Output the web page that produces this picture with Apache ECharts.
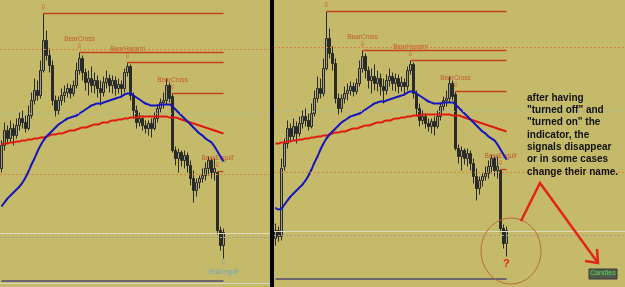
<!DOCTYPE html>
<html><head><meta charset="utf-8">
<script src="https://cdn.jsdelivr.net/npm/echarts@6/dist/echarts.min.js"></script>
<style>html,body{margin:0;padding:0;background:#c4ba6a}#c{width:625px;height:287px}</style>
</head><body><div id="c"></div>
<script>
// candles: [open, close, low, high]
const candles = [
[132,155,128,160],[155,170,150,178],[170,162,157,175],[162,172,158,180],[172,165,155,177],
[165,175,162,182],[175,182,170,188],[182,178,172,190],[178,172,168,185],[172,185,170,195],
[185,200,182,208],[200,210,196,222],[210,205,200,220],[205,230,202,240],[230,260,228,287],
[260,245,240,270],[245,235,228,252],[235,200,195,240],[200,190,184,205],[190,200,186,204],
[200,205,195,212],[205,208,198,215],[208,212,203,217],[212,207,202,216],[207,215,204,220],
[215,230,212,238],[230,242,226,248],[242,228,220,245],[228,218,210,232],[218,222,205,230],
[222,215,208,234],[215,220,207,228],[220,212,203,225],[212,208,195,220],[208,218,204,224],
[218,222,212,230],[222,215,208,226],[215,220,207,225],[220,212,205,224],[212,216,207,222],
[216,212,205,220],[212,228,208,232],[228,234,224,238],[234,205,200,236],[205,190,182,208],
[190,178,172,195],[178,182,174,188],[182,175,170,185],[175,172,167,180],[172,177,165,180],
[177,172,163,182],[172,182,170,188],[182,192,178,196],[192,198,188,202],[198,200,192,208],
[200,215,196,222],[215,202,198,218],[204,150,148,207],[150,142,135,154],[142,148,128,152],
[148,140,134,150],[140,145,132,150],[145,135,128,148],[135,122,115,140],[122,110,98,130],
[110,118,104,122],[118,122,112,125],[122,125,118,132],[125,132,120,138],[132,140,125,144],
[140,128,122,142],[128,132,120,142],[128,70,66,129],[70,55,50,74],[55,68,42,72]
];
// earlier bars visible only on the right-hand chart
const extraCandles = [[60,68,53,75],[68,62,57,72],[62,130,58,140]];

const maFast = [94,98,102,105,108,111,114,118,123,129,
136,142,149,155,160,164,167,170,173,176,
178,180,182,183,184,185,187,189,191,193,
195,196,197,197,198,199,200,201,202,203,
204,206,207,207,205,203,201,199,197,196,
195,195,195,196,196,196,196,
194,191,188,185,182,179,176,173,170,167,165,162,160,158,154,149,144,139];
const maSlow = [156,157,157,158,158,159,159,160,160,161,
161,162,162,163,163,164,165,166,166,167,
167,168,169,170,170,171,172,173,173,174,
175,176,176,177,178,178,179,180,180,181,
181,182,182,183,183,183,184,184,184,184,
184,184,184,184,184,184,
183,183,183,182,181,180,179,178,177,176,175,174,173,172,171,170,169,168,167];
const extraMaFast = [91,89,90];
const extraMaSlow = [155,155,156];

const signals = [
  {name:'', idx:14},
  {name:'BearCross', idx:26},
  {name:'BearHarami', idx:42},
  {name:'BearCross', idx:57},
  {name:'BearEngulf', idx:72}
];
const bullSignal = {name:'BullEngulf', idx:74};
const dottedLevels = [251, 126];
const gridLevel = 187;
const supportLevels = [67, 63];
const baseLevel = 20;

const noteLines = ['after having','"turned off" and','"turned on" the','indicator, the','signals disappear','or in some cases','change their name.'];

const chart = echarts.init(document.getElementById('c'));
const FONT = 'Liberation Sans';
const SIG_LINE = {type:'solid', color:'#c9421f', width:1.3};

function panel(k, data, fast, slow, shift, withBull) {
  const last = data.length - 1;
  const hi = i => candles[i][3];
  const lo = i => candles[i][2];
  const ml = [
    ...dottedLevels.map(v => ({yAxis:v, lineStyle:{type:[2,2], color:'#d8853a', width:1}})),
    {yAxis:gridLevel, lineStyle:{type:[1,2], color:'#9fb5a5', width:1}},
    {yAxis:supportLevels[0], lineStyle:{type:'solid', color:'#dedbc0', width:1}},
    {yAxis:supportLevels[1], lineStyle:{type:[2,2], color:'#a3a38c', width:1}},
    [{coord:[0, baseLevel], lineStyle:{type:'solid', color:'#4e4a70', width:1.5}}, {coord:[last, baseLevel]}],
    ...signals.map(s => [{coord:[s.idx+shift, hi(s.idx)], lineStyle:SIG_LINE}, {coord:[last, hi(s.idx)], lineStyle:SIG_LINE}])
  ];
  const series = [
    {type:'candlestick', xAxisIndex:k, yAxisIndex:k, data, barWidth:2,
     itemStyle:{color:'#9e9c8a', color0:'#2a2a26', borderColor:'#2a2a26', borderColor0:'#2a2a26', borderWidth:1},
     markLine:{silent:true, symbol:['none','none'], label:{show:false}, animation:false, lineStyle:SIG_LINE, emphasis:{disabled:true}, data:ml}},
    {type:'line', xAxisIndex:k, yAxisIndex:k, data:slow, smooth:true, symbol:'none', lineStyle:{color:'#e01a10', width:2}},
    {type:'line', xAxisIndex:k, yAxisIndex:k, data:fast, smooth:true, symbol:'none', lineStyle:{color:'#1414c0', width:2}},
    {type:'scatter', xAxisIndex:k, yAxisIndex:k, symbolSize:1, itemStyle:{color:'rgba(0,0,0,0)'},
     data:signals.map(s => [s.idx+shift, hi(s.idx)]),
     label:{show:true, position:'top', distance:2, formatter:'⇩', color:'#cc3f22', fontSize:7, fontFamily:'DejaVu Sans'}},
    {type:'scatter', xAxisIndex:k, yAxisIndex:k, symbolSize:1, itemStyle:{color:'rgba(0,0,0,0)'},
     data:signals.map(s => ({value:[s.idx+shift, hi(s.idx)], name:s.name})),
     label:{show:true, position:'top', distance:9, formatter:p => p.name, color:'#c2421f', fontSize:6.5, fontFamily:FONT}}
  ];
  if (withBull) {
    series.push({type:'scatter', xAxisIndex:k, yAxisIndex:k, symbolSize:1, itemStyle:{color:'rgba(0,0,0,0)'},
      data:[[bullSignal.idx+shift, lo(bullSignal.idx)]],
      label:{show:true, position:'bottom', distance:0, formatter:'⇧', color:'#5aa6d2', fontSize:7, fontFamily:'DejaVu Sans'}});
    series.push({type:'scatter', xAxisIndex:k, yAxisIndex:k, symbolSize:1, itemStyle:{color:'rgba(0,0,0,0)'},
      data:[{value:[bullSignal.idx+shift, lo(bullSignal.idx)], name:bullSignal.name}],
      label:{show:true, position:'bottom', distance:10, formatter:p => p.name, color:'#5aa6d2', fontSize:6.5, fontFamily:FONT}});
  }
  return series;
}

const leftCats = Array.from({length:90}, (_, i) => String(i));
const rightCats = Array.from({length:117}, (_, i) => String(i));
const rightCandles = extraCandles.concat(candles);
const rightFast = extraMaFast.concat(maFast);
const rightSlow = extraMaSlow.concat(maSlow);

const noteGraphics = noteLines.map((t, i) => ({
  type:'text', left:527, top:93 + i*12.3, z:100,
  style:{text:t, font:'bold 10px "Liberation Sans"', fill:'#111111'}
}));

chart.setOption({
  animation:false,
  backgroundColor:'#c4ba6a',
  grid:[
    {left:0, top:0, width:270, height:287},
    {left:274, top:0, width:351, height:287}
  ],
  xAxis:[
    {type:'category', gridIndex:0, data:leftCats, show:false, boundaryGap:true},
    {type:'category', gridIndex:1, data:rightCats, show:false, boundaryGap:true}
  ],
  yAxis:[
    {type:'value', gridIndex:0, min:13.5, max:300.5, show:false, splitLine:{show:false}},
    {type:'value', gridIndex:1, min:11.5, max:298.5, show:false, splitLine:{show:false}}
  ],
  series:[
    ...panel(0, candles, maFast, maSlow, 0, true),
    ...panel(1, rightCandles, rightFast, rightSlow, extraCandles.length, false)
  ],
  graphic:[
    {type:'rect', shape:{x:270, y:0, width:4, height:287}, style:{fill:'#000'}, z:100},
    {type:'line', shape:{x1:0, y1:283.5, x2:270, y2:283.5}, style:{stroke:'#d9d6c6', lineWidth:1}, z:100},
    {type:'ellipse', shape:{cx:511, cy:251, rx:30, ry:33}, style:{stroke:'#b86a3a', fill:null, lineWidth:1}, z:100},
    {type:'text', left:503, top:258, z:100, style:{text:'?', font:'bold 11px "Liberation Sans"', fill:'#e02a10'}},
    {type:'polyline', shape:{points:[[521,221],[540,183],[598,263]]}, style:{stroke:'#e3261a', lineWidth:2.5, fill:null}, z:100},
    {type:'polyline', shape:{points:[[585,261],[598,263],[597,249]]}, style:{stroke:'#e3261a', lineWidth:2.5, fill:null}, z:100},
    {type:'rect', shape:{x:589, y:269, width:28, height:10}, style:{fill:'#4f5a4a', stroke:'#3a3a3a', lineWidth:1}, z:100},
    {type:'text', left:590, top:270, z:101, style:{text:'Candles', font:'7px "Liberation Sans"', fill:'#5ad85a'}},
    ...noteGraphics
  ]
});
</script>
</body></html>
